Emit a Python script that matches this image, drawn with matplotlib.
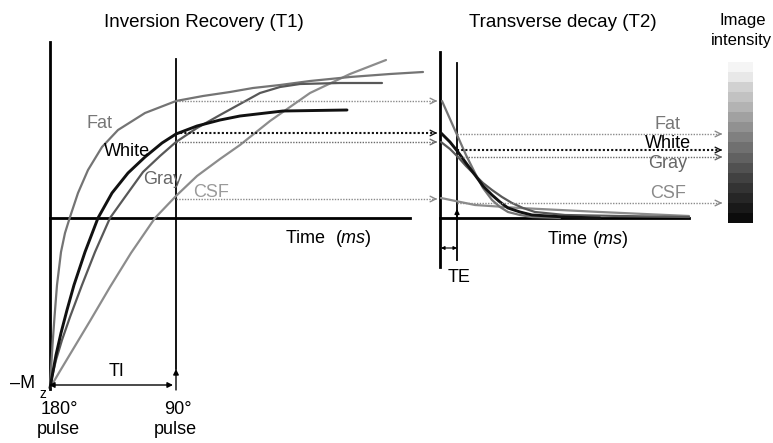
import numpy as np
import matplotlib
matplotlib.use("Agg")
import matplotlib.pyplot as plt

plt.rcParams['font.family'] = ['Liberation Sans', 'DejaVu Sans']
plt.rcParams['mathtext.fontset'] = 'custom'
plt.rcParams['mathtext.rm'] = 'Liberation Sans'
plt.rcParams['mathtext.it'] = 'Liberation Sans:italic'

# --- curve samples (pixel coords, y down) ---
t1_fat_x = [50, 51, 52.5, 54.5, 57, 61, 65, 70, 78, 88, 102, 118, 145, 176, 203, 230, 253, 280, 310, 350, 390, 423]
t1_fat_y = [388, 370, 345, 317, 285, 252, 233, 217, 193, 170, 147, 130, 113, 101, 96, 92, 88, 85, 81, 77, 74, 72]
t1_white_x = [50, 52, 56, 61, 67, 74, 85, 98, 112, 128, 145, 162, 176, 197, 220, 240, 283, 347]
t1_white_y = [388, 377, 355, 333, 310, 285, 252, 218, 193, 173, 157, 143, 134, 126, 120, 116, 111, 110]
t1_gray_x = [50, 52, 56, 62, 70, 82, 95, 110, 125, 143, 160, 176, 197, 220, 240, 260, 280, 300, 340, 382]
t1_gray_y = [388, 377, 360, 340, 317, 285, 252, 218, 197, 172, 156, 142, 128, 115, 104, 93, 87, 84, 83, 83]
t1_csf_x = [50, 60, 72, 90, 110, 131, 155, 176, 197, 220, 240, 270, 310, 350, 386]
t1_csf_y = [388, 371, 351, 321, 287, 253, 218, 196, 176, 159, 145, 121, 93, 74, 60]

t2_fat_x = [442, 450, 458, 466, 475, 483, 492, 500, 508, 520, 532, 560]
t2_fat_y = [101, 119, 137, 155, 173, 188, 200, 207, 212, 215, 217, 218]
t2_white_x = [441, 450, 458, 466, 475, 483, 492, 500, 508, 520, 532, 565, 600]
t2_white_y = [133, 142, 152, 163, 175, 186, 195, 202, 208, 212, 215, 217, 218]
t2_gray_x = [441, 450, 458, 466, 475, 483, 492, 502, 512, 523, 535, 565, 620, 689]
t2_gray_y = [142, 149, 157, 166, 175, 183, 190, 197, 203, 208, 212, 215, 216, 217]
t2_csf_x = [441, 475, 520, 600, 689]
t2_csf_y = [198, 205, 208, 212, 216]

# signal level at readout (y pixel) after TI and after TE
tissues = ['Fat', 'White', 'Gray', 'CSF']
ti_level = [101, 133, 142, 199]
te_level = [134, 150, 157, 203]

# image intensity scale, top (bright) to bottom (dark)
intensity_levels = [0.96, 0.91, 0.82, 0.76, 0.70, 0.63, 0.57, 0.50,
                    0.44, 0.38, 0.32, 0.26, 0.20, 0.15, 0.10, 0.05]

curve_style = {
    'Fat': dict(color='#747474', lw=1.6),
    'White': dict(color='#111111', lw=2.1),
    'Gray': dict(color='#585858', lw=1.6),
    'CSF': dict(color='#8c8c8c', lw=1.6),
}
arrow_color = {'Fat': '#8a8a8a', 'White': '#111111', 'Gray': '#6a6a6a', 'CSF': '#8a8a8a'}

fig = plt.figure(figsize=(7.73, 4.43), dpi=100)
ax = fig.add_axes([0, 0, 1, 1])
ax.set_xlim(0, 773)
ax.set_ylim(443, 0)
ax.axis('off')

# axes of the two panels
ax.plot([50, 50], [42, 389], color='black', lw=2)
ax.plot([50, 410], [218, 218], color='black', lw=2)
ax.plot([176, 176], [59, 369], color='black', lw=1.3)
ax.plot([440, 440], [52, 267], color='black', lw=2)
ax.plot([440, 689], [218, 218], color='black', lw=2)
ax.plot([457, 457], [63, 260], color='black', lw=1.3)

# recovery and decay curves
t1 = {'Fat': (t1_fat_x, t1_fat_y), 'White': (t1_white_x, t1_white_y),
      'Gray': (t1_gray_x, t1_gray_y), 'CSF': (t1_csf_x, t1_csf_y)}
t2 = {'Fat': (t2_fat_x, t2_fat_y), 'White': (t2_white_x, t2_white_y),
      'Gray': (t2_gray_x, t2_gray_y), 'CSF': (t2_csf_x, t2_csf_y)}
for name in ['CSF', 'Fat', 'Gray', 'White']:
    ax.plot(*t1[name], **curve_style[name], solid_capstyle='round', solid_joinstyle='round')
    ax.plot(*t2[name], **curve_style[name], solid_capstyle='round', solid_joinstyle='round')

# dotted transfer arrows
for name, y1, y2 in zip(tissues, ti_level, te_level):
    c = arrow_color[name]
    lw = 1.5 if name == 'White' else 1.0
    ax.plot([176, 434], [y1, y1], color=c, lw=lw, ls=(0, (1, 1)))
    ax.annotate('', xy=(440, y1), xytext=(432, y1),
                arrowprops=dict(arrowstyle='->', color=c, lw=1.0))
    ax.plot([457, 719], [y2, y2], color=c, lw=lw, ls=(0, (1, 1)))
    ax.annotate('', xy=(725, y2), xytext=(717, y2),
                arrowprops=dict(arrowstyle='->', color=c, lw=1.0))

# TI / pulse arrows
ax.annotate('', xy=(49, 385), xytext=(173, 385),
            arrowprops=dict(arrowstyle='<|-|>', color='black', lw=1.0,
                            mutation_scale=8, shrinkA=0, shrinkB=0))
ax.annotate('', xy=(176, 369), xytext=(176, 390),
            arrowprops=dict(arrowstyle='-|>', color='black', lw=1.0,
                            mutation_scale=8, shrinkA=0, shrinkB=0))
ax.annotate('', xy=(457, 209), xytext=(457, 220),
            arrowprops=dict(arrowstyle='-|>', color='black', lw=1.0,
                            mutation_scale=7, shrinkA=0, shrinkB=0))
ax.annotate('', xy=(441, 248), xytext=(457, 248),
            arrowprops=dict(arrowstyle='<|-|>', color='black', lw=0.8,
                            mutation_scale=5, shrinkA=0, shrinkB=0))

# colour scale
bands = np.array(intensity_levels).reshape(-1, 1)
ax.imshow(bands, cmap='gray', vmin=0, vmax=1, extent=(728, 753, 223, 62),
          aspect='auto', interpolation='nearest', zorder=3)

# texts
fs = 13
ax.text(204, 22, 'Inversion Recovery (T1)', ha='center', va='center', fontsize=13.5)
ax.text(563, 22, 'Transverse decay (T2)', ha='center', va='center', fontsize=13.5)
ax.text(743, 20, 'Image', ha='center', va='center', fontsize=12)
ax.text(772, 40, 'intensity', ha='right', va='center', fontsize=12)
ax.text(328, 238, r'Time  ($\mathit{ms}$)', ha='center', va='center', fontsize=fs)
ax.text(588, 239, r'Time ($\mathit{ms}$)', ha='center', va='center', fontsize=fs)
ax.text(100, 123, 'Fat', ha='center', va='center', fontsize=fs, color='#777777')
ax.text(127, 152, 'White', ha='center', va='center', fontsize=fs, color='black')
ax.text(163, 180, 'Gray', ha='center', va='center', fontsize=fs, color='#666666')
ax.text(211, 192, 'CSF', ha='center', va='center', fontsize=fs, color='#9a9a9a')
ax.text(668, 124, 'Fat', ha='center', va='center', fontsize=fs, color='#777777')
ax.text(668, 143, 'White', ha='center', va='center', fontsize=fs, color='black')
ax.text(668, 164, 'Gray', ha='center', va='center', fontsize=fs, color='#666666')
ax.text(668, 193, 'CSF', ha='center', va='center', fontsize=fs, color='#8a8a8a')
ax.text(117, 372, 'TI', ha='center', va='center', fontsize=fs)
ax.text(459, 278, 'TE', ha='center', va='center', fontsize=fs)
ax.text(23, 384, '\u2013M', ha='center', va='center', fontsize=fs)
ax.text(43, 394, 'z', ha='center', va='center', fontsize=10)
ax.text(59, 410, '180\u00b0', ha='center', va='center', fontsize=fs)
ax.text(58, 430, 'pulse', ha='center', va='center', fontsize=fs)
ax.text(178, 410, '90\u00b0', ha='center', va='center', fontsize=fs)
ax.text(175, 430, 'pulse', ha='center', va='center', fontsize=fs)

fig.savefig('out.png', dpi=100)
